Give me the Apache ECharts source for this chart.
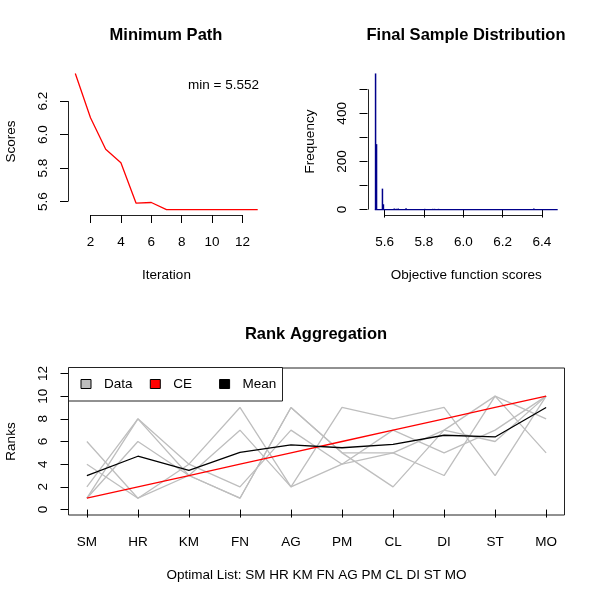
<!DOCTYPE html>
<html>
<head>
<meta charset="utf-8">
<script src="https://cdn.jsdelivr.net/npm/echarts@6/dist/echarts.min.js"></script>
<style>html,body{margin:0;padding:0;background:#fff}#main{width:600px;height:600px}</style>
</head>
<body>
<div id="main"></div>
<script>
// --- Minimum Path ---
var iterations = [1, 2, 3, 4, 5, 6, 7, 8, 9, 10, 11, 12, 13];
var minScores = [6.365, 6.100, 5.912, 5.832, 5.590, 5.594, 5.552, 5.552, 5.552, 5.552, 5.552, 5.552, 5.552];
var pathXTicks = [2, 4, 6, 8, 10, 12];
var pathYTicks = [5.6, 5.8, 6.0, 6.2];

// --- Final Sample Distribution (only non-empty bins listed) ---
var binStarts = [5.550, 5.555, 5.585, 5.590, 5.645, 5.655, 5.665, 5.705, 5.800, 5.840, 5.850, 5.870, 6.090, 6.110, 6.355];
var binCounts = [566, 272, 87, 22, 4, 3, 4, 5, 3, 3, 3, 3, 2, 2, 4];
var binWidth = 0.005;
var histFirstBreak = 5.550, histLastBreak = 6.480;
var histXTicks = [5.6, 5.8, 6.0, 6.2, 6.4];
var histYTicks = [0, 100, 200, 300, 400, 500];
var histYLabels = [0, 200, 400];

// --- Rank Aggregation ---
var algorithms = ['SM', 'HR', 'KM', 'FN', 'AG', 'PM', 'CL', 'DI', 'ST', 'MO'];
var ranksA = [6, 1, 4, 9, 2, 9, 8, 9, 3, 10];
var ranksB = [4, 1, 3, 7, 2, 4, 5, 3, 10, 8];
var ranksC = [2, 8, 3, 1, 9, 5, 2, 7, 6, 10];
var ranksD = [1, 8, 4, 2, 7, 4, 7, 5, 7, 10];
var ranksE = [1, 6, 3, 1, 9, 5, 5, 7, 10, 5];
var ceRanks = [1, 2, 3, 4, 5, 6, 7, 8, 9, 10];
var meanRanks = [3.0, 4.7, 3.45, 5.05, 5.7, 5.45, 5.75, 6.55, 6.4, 9.0];
var rankYTicks = [0, 2, 4, 6, 8, 10, 12];
var legendNames = ['Data', 'CE', 'Mean'];
var legendColors = ['#BEBEBE', '#FF0000', '#000000'];

var FONT = 'Liberation Sans, Arial, sans-serif';
var FS = 13.5;

// R pads each axis range by 4%
function padded(lo, hi) {
  var d = (hi - lo) * 0.04;
  return [lo - d, hi + d];
}
var pathX = padded(1, iterations.length);
var pathY = padded(Math.min.apply(null, minScores), Math.max.apply(null, minScores));
var histX = padded(histFirstBreak, histLastBreak);
var histY = padded(0, Math.max.apply(null, binCounts));
var rankX = padded(1, algorithms.length);
var rankY = padded(0, 12);
var rankIdx = algorithms.map(function (a, i) { return i + 1; });

function zip(xs, ys) { return xs.map(function (x, i) { return [x, ys[i]]; }); }
function rankSeries(name, r, color) {
  return {
    type: 'line', name: name, xAxisIndex: 2, yAxisIndex: 2,
    data: zip(rankIdx, r),
    symbol: 'none', lineStyle: { color: color, width: 1.3 }, itemStyle: { color: color },
    silent: true
  };
}

function xAx(grid, range, ticks, fmt, name) {
  return {
    gridIndex: grid, type: 'value', min: range[0], max: range[1], scale: true,
    axisLine: { show: false }, splitLine: { show: false },
    axisTick: { show: true, customValues: ticks, length: 8, lineStyle: { color: '#000' } },
    axisLabel: { customValues: ticks, formatter: fmt, margin: 20.5, fontSize: FS, color: '#000', fontFamily: FONT },
    name: name, nameLocation: 'middle', nameGap: 53.5, nameMoveOverlap: false,
    nameTextStyle: { fontSize: FS, color: '#000', fontFamily: FONT }
  };
}
function yAx(grid, range, ticks, labels, fmt, name) {
  return {
    gridIndex: grid, type: 'value', min: range[0], max: range[1], scale: true,
    axisLine: { show: false }, splitLine: { show: false },
    axisTick: { show: true, customValues: ticks, length: 8, lineStyle: { color: '#000' } },
    axisLabel: { customValues: labels, formatter: fmt, rotate: 90, margin: 18, fontSize: FS, color: '#000', fontFamily: FONT },
    name: name, nameLocation: 'middle', nameGap: 50, nameRotate: 90, nameMoveOverlap: false,
    nameTextStyle: { fontSize: FS, color: '#000', fontFamily: FONT }
  };
}
function f1(v) { return Number(v).toFixed(1); }

// one legend per entry so the entries sit at even spacing like R's horizontal legend
var legends = legendNames.map(function (n, i) {
  return {
    data: [{ name: n, itemStyle: { color: legendColors[i] } }],
    left: 80.5 + i * 69.3, top: 377, padding: 0, icon: 'rect',
    itemWidth: 10, itemHeight: 9,
    itemStyle: { borderColor: '#000', borderWidth: 1 },
    selectedMode: false, z: 5,
    textStyle: { fontSize: FS, color: '#000', fontFamily: FONT, padding: [0, 0, 0, 8] }
  };
});

var titleStyle = { fontSize: 16.5, fontWeight: 'bold', fontFamily: FONT, color: '#000' };
var chart = echarts.init(document.getElementById('main'));
var option = {
  animation: false,
  textStyle: { fontFamily: FONT, color: '#000' },
  title: [
    { text: 'Minimum Path', left: 166, top: 27, textAlign: 'center', padding: 0, textStyle: titleStyle },
    { text: 'Final Sample Distribution', left: 466, top: 27, textAlign: 'center', padding: 0, textStyle: titleStyle },
    { text: 'Rank Aggregation', left: 316, top: 326, textAlign: 'center', padding: 0, textStyle: titleStyle }
  ],
  legend: legends,
  grid: [
    { left: 68, top: 68, width: 197, height: 147, outerBoundsMode: 'none' },
    { left: 367.5, top: 68, width: 197.5, height: 147, outerBoundsMode: 'none' },
    { left: 68.5, top: 368, width: 496, height: 147, outerBoundsMode: 'none', show: true, borderColor: '#222', borderWidth: 1, backgroundColor: 'transparent' }
  ],
  xAxis: [
    xAx(0, pathX, pathXTicks, function (v) { return String(v); }, 'Iteration'),
    xAx(1, histX, histXTicks, f1, 'Objective function scores'),
    xAx(2, rankX, rankIdx, function (v) { return algorithms[Math.round(v) - 1]; }, 'Optimal List: ' + algorithms.join(' '))
  ],
  yAxis: [
    yAx(0, pathY, pathYTicks, pathYTicks, f1, 'Scores'),
    yAx(1, histY, histYTicks, histYLabels, function (v) { return String(v); }, 'Frequency'),
    yAx(2, rankY, rankYTicks, rankYTicks, function (v) { return String(v); }, 'Ranks')
  ],
  series: [
    {
      type: 'line', xAxisIndex: 0, yAxisIndex: 0, data: zip(iterations, minScores),
      symbol: 'none', lineStyle: { color: '#FF0000', width: 1.3 }, silent: true
    },
    {
      type: 'custom', xAxisIndex: 1, yAxisIndex: 1, data: zip(binStarts, binCounts), silent: true,
      renderItem: function (params, api) {
        var top = api.coord([api.value(0), api.value(1)]);
        var base = api.coord([api.value(0) + binWidth, 0]);
        return {
          type: 'rect',
          shape: { x: top[0], y: top[1], width: Math.max(base[0] - top[0], 1.5), height: base[1] - top[1] },
          style: { fill: '#00008B' }
        };
      }
    },
    {
      type: 'line', xAxisIndex: 1, yAxisIndex: 1, data: [[histFirstBreak, 0], [histLastBreak, 0]],
      symbol: 'none', lineStyle: { color: '#00008B', width: 1.2 }, silent: true
    },
    rankSeries('Data', ranksA, '#BEBEBE'),
    rankSeries('Data', ranksB, '#BEBEBE'),
    rankSeries('Data', ranksC, '#BEBEBE'),
    rankSeries('Data', ranksD, '#BEBEBE'),
    rankSeries('Data', ranksE, '#BEBEBE'),
    rankSeries('CE', ceRanks, '#FF0000'),
    rankSeries('Mean', meanRanks, '#000000')
  ]
};
chart.setOption(option);

// R-style axis lines that only run from the first to the last tick
function seg(gi, p1, p2) {
  var a = chart.convertToPixel({ gridIndex: gi }, p1);
  var b = chart.convertToPixel({ gridIndex: gi }, p2);
  var r = function (v) { return Math.round(v) + 0.5; };
  var h = Math.abs(a[1] - b[1]) < 0.5;
  return {
    type: 'line', silent: true,
    shape: { x1: h ? a[0] : r(a[0]), y1: h ? r(a[1]) : a[1], x2: h ? b[0] : r(b[0]), y2: h ? r(b[1]) : b[1] },
    style: { stroke: '#222', lineWidth: 1 }
  };
}
var gfx = [
  seg(0, [pathXTicks[0], pathY[0]], [pathXTicks[pathXTicks.length - 1], pathY[0]]),
  seg(0, [pathX[0], pathYTicks[0]], [pathX[0], pathYTicks[pathYTicks.length - 1]]),
  seg(1, [histXTicks[0], histY[0]], [histXTicks[histXTicks.length - 1], histY[0]]),
  seg(1, [histX[0], histYTicks[0]], [histX[0], histYTicks[histYTicks.length - 1]])
];
var corner = chart.convertToPixel({ gridIndex: 0 }, [pathX[1], pathY[1]]);
gfx.push({
  type: 'text', x: corner[0] - 6, y: corner[1] + 17,
  style: { text: 'min = ' + Math.min.apply(null, minScores).toFixed(3), textAlign: 'right', textVerticalAlign: 'middle', fontSize: FS, fontFamily: FONT, fill: '#000' }
});
// legend frame
gfx.push({
  type: 'rect', z: 4, silent: true,
  shape: { x: 68.5, y: 367.5, width: 214, height: 33.5 },
  style: { fill: '#fff', stroke: '#222', lineWidth: 1 }
});
chart.setOption({ graphic: gfx });
</script>
</body>
</html>
